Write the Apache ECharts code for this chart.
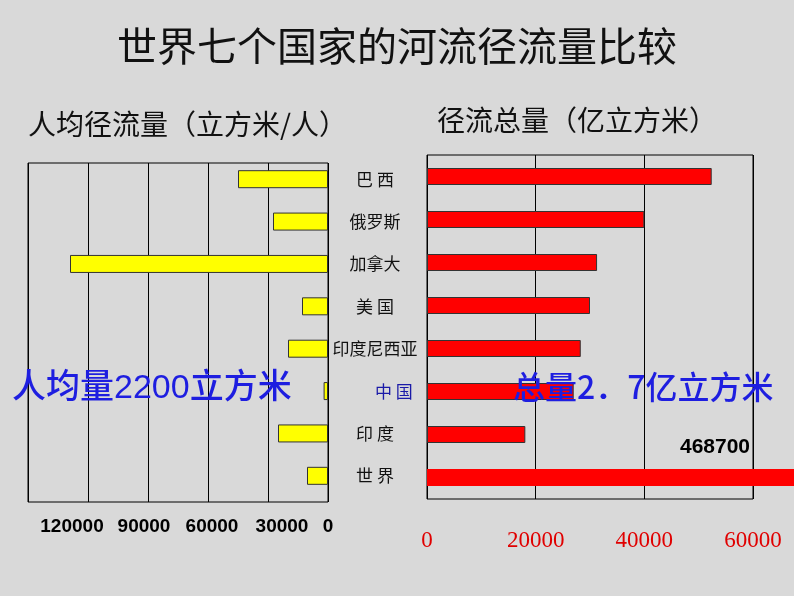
<!DOCTYPE html>
<html><head><meta charset="utf-8">
<script src="https://cdn.jsdelivr.net/npm/echarts@6/dist/echarts.min.js"></script>
<style>html,body{margin:0;padding:0;background:#d9d9d9}#c{width:794px;height:596px}</style>
</head><body><div id="c"></div>
<script>
// ---- data ----
const categories = ['巴 西', '俄罗斯', '加拿大', '美 国', '印度尼西亚', '中 国', '印 度', '世 界'];
const perCapita = [45000, 27500, 129000, 13000, 20000, 2200, 25000, 10500];   // 立方米/人
const totalRunoff = [52400, 40000, 31300, 30000, 28300, 27000, 18100, 468700]; // 亿立方米
const perCapitaTickLabels = ['0', '30000', '60000', '90000', '120000', ''];
const totalTickLabels = ['0', '20000', '40000', '60000'];
const titleText = '世界七个国家的河流径流量比较';
const leftSubtitle = '人均径流量（立方米/人）';
const rightSubtitle = '径流总量（亿立方米）';
const leftNote = '人均量2200立方米';
const rightNote = '总量2．7亿立方米';

const chart = echarts.init(document.getElementById('c'));
const CJK = '"Noto Sans CJK SC", sans-serif';
const labelShift = {'120000': 'a', '90000': 'b', '60000': 'c', '30000': 'd'};

const option = {
  backgroundColor: '#d9d9d9',
  animation: false,
  grid: [
    {left: 28, top: 163, width: 300, height: 339, show: true, borderColor: '#000', borderWidth: 1, backgroundColor: 'transparent'},
    {left: 28, top: 158, width: 300, height: 339},
    {left: 427, top: 155, width: 326, height: 344, show: true, borderColor: '#000', borderWidth: 1, backgroundColor: 'transparent'}
  ],
  xAxis: [
    {
      gridIndex: 0, type: 'value', min: 0, max: 150000, interval: 30000, inverse: true,
      axisLine: {show: false}, axisTick: {show: false},
      splitLine: {show: true, lineStyle: {color: '#000', width: 1}},
      axisLabel: {
        margin: 15,
        formatter: function (v) {
          const s = perCapitaTickLabels[Math.round(v / 30000)] || '';
          if (!s) return '';
          return labelShift[s] ? '{' + labelShift[s] + '|' + s + '}' : s;
        },
        color: '#000', fontFamily: '"Liberation Sans", Arial, sans-serif', fontWeight: 'bold', fontSize: 19,
        rich: {
          a: {padding: [0, 32, 0, 0], color: '#000', fontFamily: '"Liberation Sans", Arial', fontWeight: 'bold', fontSize: 19},
          b: {padding: [0, 8, 0, 0], color: '#000', fontFamily: '"Liberation Sans", Arial', fontWeight: 'bold', fontSize: 19},
          c: {padding: [0, 0, 0, 8], color: '#000', fontFamily: '"Liberation Sans", Arial', fontWeight: 'bold', fontSize: 19},
          d: {padding: [0, 0, 0, 28], color: '#000', fontFamily: '"Liberation Sans", Arial', fontWeight: 'bold', fontSize: 19}
        }
      }
    },
    {gridIndex: 1, type: 'value', min: 0, max: 150000, inverse: true, show: false, splitLine: {show: false}},
    {
      gridIndex: 2, type: 'value', min: 0, max: 60000, interval: 20000,
      axisLine: {show: false}, axisTick: {show: false},
      splitLine: {show: true, lineStyle: {color: '#000', width: 1}},
      axisLabel: {
        margin: 30,
        formatter: function (v) { return totalTickLabels[Math.round(v / 20000)] || ''; },
        color: '#e00000', fontFamily: '"Liberation Serif", "DejaVu Serif", serif', fontSize: 23
      }
    }
  ],
  yAxis: [
    {gridIndex: 0, type: 'category', data: categories, show: false},
    {
      gridIndex: 1, type: 'category', inverse: true, position: 'right',
      data: categories.map(c => c === '中 国' ? {value: c, textStyle: {color: '#1a1aa8'}} : c),
      axisLine: {show: false}, axisTick: {show: false}, splitLine: {show: false},
      axisLabel: {align: 'center', margin: 47, fontFamily: CJK, fontSize: 17, color: '#111'}
    },
    {gridIndex: 2, type: 'category', inverse: true, data: categories, show: false}
  ],
  series: [
    {
      type: 'bar', xAxisIndex: 1, yAxisIndex: 1, data: perCapita, barWidth: 18,
      itemStyle: {color: '#ffff00', borderColor: '#333', borderWidth: 1}
    },
    {
      type: 'bar', xAxisIndex: 2, yAxisIndex: 2, barWidth: 17, clip: false,
      data: totalRunoff.map((v, i) => i === totalRunoff.length - 1 ? {
        value: v,
        itemStyle: {borderWidth: 0},
        label: {
          show: true, position: [288, -22], align: 'center', verticalAlign: 'middle',
          formatter: '{c}', color: '#000', fontFamily: '"Liberation Sans", Arial', fontWeight: 'bold', fontSize: 21
        }
      } : v),
      itemStyle: {color: '#ff0000', borderColor: '#333', borderWidth: 1}
    }
  ],
  graphic: [
    {type: 'text', x: 117, y: 26, z: 100, style: {text: titleText, font: '400 40px ' + CJK, fill: '#111', textShadowColor: '#8a8a8a', textShadowOffsetX: 2, textShadowOffsetY: 2}},
    {type: 'text', x: 28, y: 110, z: 100, style: {text: leftSubtitle, font: '400 28px ' + CJK, fill: '#111'}},
    {type: 'text', x: 437, y: 106, z: 100, style: {text: rightSubtitle, font: '400 28px ' + CJK, fill: '#111'}},
    {type: 'text', x: 12, y: 372, z: 100, style: {text: leftNote, font: '500 34px "Liberation Sans", ' + CJK, fill: '#1e1ee0', textShadowColor: '#4a4a6a', textShadowOffsetX: 2, textShadowOffsetY: 2}},
    {type: 'text', x: 513, y: 371, z: 100, style: {text: rightNote, font: '500 32px ' + CJK, fill: '#1e1ee0', textShadowColor: '#4a4a6a', textShadowOffsetX: 2, textShadowOffsetY: 2}}
  ]
};
chart.setOption(option);
</script>
</body></html>
